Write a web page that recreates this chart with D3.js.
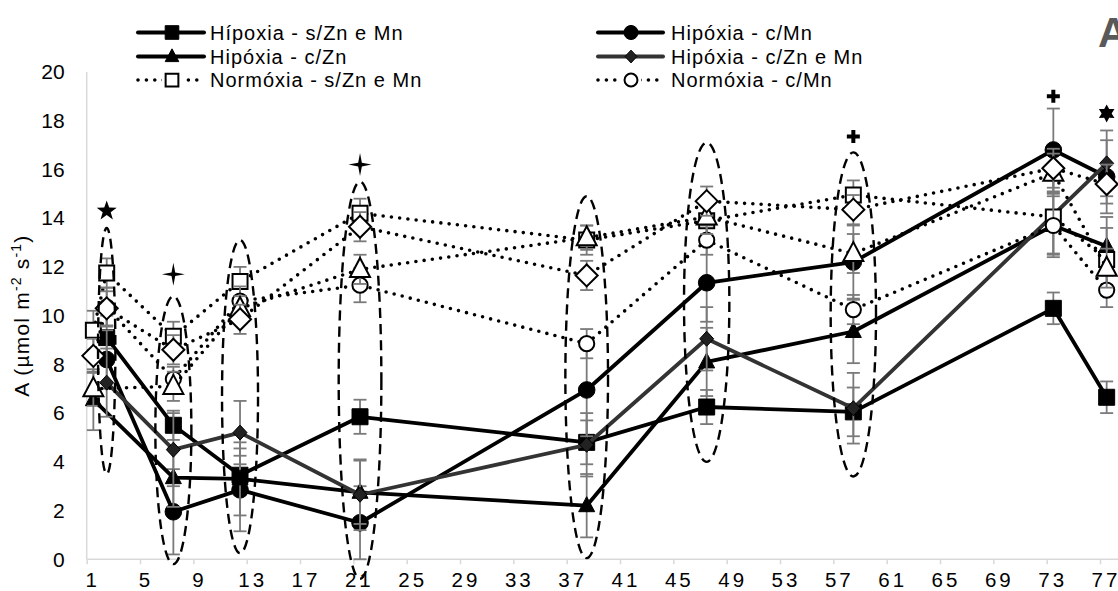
<!DOCTYPE html>
<html>
<head>
<meta charset="utf-8">
<script src="https://cdn.jsdelivr.net/npm/d3@7"></script>
<style>
  body { margin: 0; background: #fff; }
  svg { display: block; font-family: "Liberation Sans", Arial, sans-serif; }
</style>
</head>
<body>
<svg id="chart" width="1118" height="591"></svg>
<script>
// Net CO2 assimilation (A) during the experiment, hypoxia vs normoxia treatments

const xTicks = [1, 5, 9, 13, 17, 21, 25, 29, 33, 37, 41, 45, 49, 53, 57, 61, 65, 69, 73, 77];
const yTicks = [0, 2, 4, 6, 8, 10, 12, 14, 16, 18, 20];

// Hípoxia - s/Zn e Mn
const hipSemDays   = [2.5, 7.5, 12.5, 21.5, 38.5, 47.5, 58.5, 73.5, 77.5];
const hipSemVals   = [9.1, 5.5, 3.45, 5.85, 4.8, 6.25, 6.05, 10.3, 6.65];
const hipSemErr    = [0.9, 0.6, 0.8, 0.7, 0.9, 0.7, 1.0, 0.65, 0.65];

// Hipóxia - c/Mn
const hipMnDays    = [2.5, 7.5, 12.5, 21.5, 38.5, 47.5, 58.5, 73.5, 77.5];
const hipMnVals    = [8.2, 1.95, 2.85, 1.5, 6.95, 11.35, 12.2, 16.8, 15.7];
const hipMnErr     = [1.2, 1.75, 1.7, 1.5, 1.9, 1.6, 1.5, 1.7, 1.5];

// Hipóxia - c/Zn
const hipZnDays    = [1.5, 7.5, 12.5, 21.5, 38.5, 47.5, 58.5, 73.5, 77.5];
const hipZnVals    = [6.55, 3.35, 3.3, 2.75, 2.2, 8.1, 9.35, 13.7, 12.85];
const hipZnErr     = [1.25, 1.2, 1.5, 1.3, 1.3, 1.4, 1.3, 1.2, 1.2];

// Hipóxia - c/Zn e Mn
const hipZnMnDays  = [2.5, 7.5, 12.5, 21.5, 38.5, 47.5, 58.5, 77.5];
const hipZnMnVals  = [7.25, 4.5, 5.2, 2.65, 4.7, 9.05, 6.2, 16.25];
const hipZnMnErr   = [1.4, 1.5, 1.3, 1.45, 1.3, 1.3, 1.45, 1.35];

// Normóxia - s/Zn e Mn
const norSemDays   = [1.5, 2.5, 7.5, 12.5, 21.5, 38.5, 47.5, 58.5, 73.5, 77.5];
const norSemVals   = [9.4, 11.75, 9.15, 11.4, 14.2, 13.1, 13.9, 14.95, 14.05, 12.3];
const norSemErr    = [0.8, 0.6, 0.6, 0.6, 0.6, 0.6, 0.6, 0.6, 1.5, 1.3];

// Normóxia - c/Mn
const norMnDays    = [2.5, 7.5, 12.5, 21.5, 38.5, 47.5, 58.5, 73.5, 77.5];
const norMnVals    = [10.35, 7.4, 10.6, 11.25, 8.85, 13.1, 10.25, 13.7, 11.05];
const norMnErr     = [0.8, 0.5, 0.6, 0.7, 0.6, 0.6, 0.6, 1.3, 0.7];

// Normóxia - c/Zn
const norZnDays    = [1.5, 7.5, 12.5, 21.5, 38.5, 47.5, 58.5, 73.5, 77.5];
const norZnVals    = [7.0, 7.1, 10.3, 11.9, 13.2, 14.05, 12.55, 15.85, 11.95];
const norZnErr     = [0.7, 0.6, 0.5, 0.6, 0.5, 0.7, 0.8, 0.8, 0.8];

// Normóxia - c/Zn e Mn
const norZnMnDays  = [1.5, 2.5, 7.5, 12.5, 21.5, 38.5, 47.5, 58.5, 73.5, 77.5];
const norZnMnVals  = [8.35, 10.3, 8.6, 9.85, 13.65, 11.65, 14.7, 14.35, 16.05, 15.4];
const norZnMnErr   = [0.7, 0.7, 0.6, 0.6, 0.6, 0.6, 0.6, 0.6, 0.8, 0.8];

// Dashed groupings: day, upper and lower value, half-width in days
const groupDays   = [2.5, 7.5, 12.5, 21.5, 38.5, 47.5, 58.5];
const groupTop    = [13.6, 10.8, 13.1, 15.5, 14.9, 17.1, 16.7];
const groupBottom = [3.5, -0.2, 0.25, -0.8, 0.05, 4.0, 3.4];
const groupHalfW  = [0.65, 1.35, 1.35, 1.6, 1.6, 1.7, 1.7];

// Significance marks above the groups
const markDays  = [2.5, 7.5, 21.5, 58.5, 73.5, 77.5];
const markVals  = [14.3, 11.7, 16.2, 17.35, 19.0, 18.3];
const markTypes = ["star5", "sparkle", "sparkle", "plus", "plus", "star6"];

const series = [
  { name: "Hípoxia - s/Zn e Mn", days: hipSemDays, vals: hipSemVals, err: hipSemErr,
    dotted: false, color: "#000", marker: "square", filled: true, legend: [0, 0] },
  { name: "Hipóxia - c/Mn", days: hipMnDays, vals: hipMnVals, err: hipMnErr,
    dotted: false, color: "#000", marker: "circle", filled: true, legend: [1, 0] },
  { name: "Hipóxia - c/Zn", days: hipZnDays, vals: hipZnVals, err: hipZnErr,
    dotted: false, color: "#000", marker: "triangle", filled: true, legend: [0, 1] },
  { name: "Hipóxia - c/Zn e Mn", days: hipZnMnDays, vals: hipZnMnVals, err: hipZnMnErr,
    dotted: false, color: "#333", marker: "diamond", filled: true, legend: [1, 1] },
  { name: "Normóxia - s/Zn e Mn", days: norSemDays, vals: norSemVals, err: norSemErr,
    dotted: true, color: "#000", marker: "square", filled: false, legend: [0, 2] },
  { name: "Normóxia - c/Mn", days: norMnDays, vals: norMnVals, err: norMnErr,
    dotted: true, color: "#000", marker: "circle", filled: false, legend: [1, 2] },
  { name: "Normóxia - c/Zn", days: norZnDays, vals: norZnVals, err: norZnErr,
    dotted: true, color: "#000", marker: "triangle", filled: false, legend: null },
  { name: "Normóxia - c/Zn e Mn", days: norZnMnDays, vals: norZnMnVals, err: norZnMnErr,
    dotted: true, color: "#000", marker: "diamond", filled: false, legend: null }
];

const svg = d3.select("#chart");
const W = 1118;

const x = d3.scaleLinear().domain([1, 77]).range([86.7, 1100]);
const y = d3.scaleLinear().domain([0, 20]).range([559.3, 72]);

// ---- marker shapes ----
function markerPath(type, filled, legend) {
  const k = legend ? 0.85 : 1;
  if (type === "square") {
    const s = (filled ? 16 : 15) * k / 2;
    return `M${-s},${-s}H${s}V${s}H${-s}Z`;
  }
  if (type === "circle") {
    const r = (filled ? 8.3 : 7.6) * k;
    return `M${r},0A${r},${r} 0 1,1 ${-r},0A${r},${r} 0 1,1 ${r},0Z`;
  }
  if (type === "triangle") {
    const w = (filled ? 16 : 20) * k / 2, h = (filled ? 15 : 19) * k;
    return `M0,${-h * 0.6}L${w},${h * 0.4}L${-w},${h * 0.4}Z`;
  }
  // diamond
  const w = (filled ? 14 : 22) * k / 2, h = (filled ? 15 : 22) * k / 2;
  return `M0,${-h}L${w},0L0,${h}L${-w},0Z`;
}

// ---- axes ----
const gx = svg.append("g").attr("transform", `translate(0,${y(0)})`)
  .call(d3.axisBottom(x).tickValues(xTicks).tickSize(5).tickFormat(d3.format("d")));
gx.select(".domain").remove();
gx.selectAll(".tick line").attr("stroke", "#d9d9d9").attr("stroke-width", 1.5);
gx.selectAll(".tick text")
  .attr("y", 27.3).attr("dy", 0).attr("dx", 5.5)
  .attr("fill", "#000").attr("font-size", 20.5)
  .attr("letter-spacing", 3)
  .attr("font-family", "Liberation Sans, Arial, sans-serif");
svg.append("line")
  .attr("x1", x(1)).attr("x2", W).attr("y1", y(0)).attr("y2", y(0))
  .attr("stroke", "#d9d9d9").attr("stroke-width", 1.5);

const gy = svg.append("g").attr("transform", `translate(${x(1)},0)`)
  .call(d3.axisLeft(y).tickValues(yTicks).tickSize(0).tickPadding(22));
gy.select(".domain").remove();
gy.selectAll(".tick text")
  .attr("fill", "#000").attr("font-size", 21)
  .attr("font-family", "Liberation Sans, Arial, sans-serif");
svg.append("line")
  .attr("x1", x(1)).attr("x2", x(1)).attr("y1", y(0)).attr("y2", y(20))
  .attr("stroke", "#d9d9d9").attr("stroke-width", 1.5);

// y-axis title
const yTitle = svg.append("text")
  .attr("transform", `translate(29,${(y(0) + y(20)) / 2}) rotate(-90)`)
  .attr("text-anchor", "middle")
  .attr("font-size", 21).attr("letter-spacing", 1.2).attr("fill", "#000");
yTitle.append("tspan").text("A (µmol m");
yTitle.append("tspan").attr("font-size", 14).attr("dy", -8).text("-2");
yTitle.append("tspan").attr("dy", 8).text(" s");
yTitle.append("tspan").attr("font-size", 14).attr("dy", -8).text("-1");
yTitle.append("tspan").attr("dy", 8).text(")");

// ---- series ----
const line = d3.line().x(d => x(d.day)).y(d => y(d.v));

series.forEach(s => {
  const pts = s.days.map((d, i) => ({ day: d, v: s.vals[i], e: s.err[i] }));
  const g = svg.append("g");

  g.append("path").datum(pts)
    .attr("d", line)
    .attr("fill", "none")
    .attr("stroke", s.color)
    .attr("stroke-width", s.dotted ? 3.6 : 3.8)
    .attr("stroke-linecap", "round")
    .attr("stroke-linejoin", "round")
    .attr("stroke-dasharray", s.dotted ? "0 8.3" : null);

  const eb = g.append("g").attr("stroke", "#7a7a7a").attr("stroke-width", 1.8);
  pts.forEach(p => {
    const cx = x(p.day);
    eb.append("line").attr("x1", cx).attr("x2", cx).attr("y1", y(p.v + p.e)).attr("y2", y(p.v - p.e));
    [p.v + p.e, p.v - p.e].forEach(v => {
      eb.append("line").attr("x1", cx - 6.5).attr("x2", cx + 6.5).attr("y1", y(v)).attr("y2", y(v));
    });
  });

  g.selectAll("path.mk").data(pts).join("path")
    .attr("class", "mk")
    .attr("transform", p => `translate(${x(p.day)},${y(p.v)})`)
    .attr("d", markerPath(s.marker, s.filled, false))
    .attr("fill", s.filled ? (s.marker === "diamond" ? "#222" : "#000") : "#fff")
    .attr("stroke", "#000")
    .attr("stroke-width", s.filled ? 1 : 2);
});

// ---- dashed groupings ----
svg.append("g").selectAll("ellipse")
  .data(groupDays.map((d, i) => ({ d, top: groupTop[i], bot: groupBottom[i], hw: groupHalfW[i] })))
  .join("ellipse")
  .attr("cx", g => x(g.d))
  .attr("cy", g => (y(g.top) + y(g.bot)) / 2)
  .attr("rx", g => x(g.d + g.hw) - x(g.d))
  .attr("ry", g => (y(g.bot) - y(g.top)) / 2)
  .attr("fill", "none")
  .attr("stroke", "#000")
  .attr("stroke-width", 2.4)
  .attr("stroke-dasharray", "10 6");

// ---- significance marks ----
function starPath(n, ro, ri, rot) {
  const pts = [];
  for (let i = 0; i < 2 * n; i++) {
    const r = i % 2 === 0 ? ro : ri;
    const a = rot + i * Math.PI / n;
    pts.push([r * Math.sin(a), -r * Math.cos(a)]);
  }
  return "M" + pts.map(p => p.join(",")).join("L") + "Z";
}
function markPath(t) {
  if (t === "star5") return starPath(5, 10.5, 4.2, 0);
  if (t === "sparkle") return starPath(4, 11.5, 2.6, 0);
  if (t === "star6") return starPath(6, 9, 5, 0);
  const a = 6.5, b = 2;
  return `M${-b},${-a}H${b}V${-b}H${a}V${b}H${b}V${a}H${-b}V${b}H${-a}V${-b}H${-b}Z`;
}
svg.append("g").selectAll("path")
  .data(markDays.map((d, i) => ({ d, v: markVals[i], t: markTypes[i] })))
  .join("path")
  .attr("transform", m => `translate(${x(m.d)},${y(m.v)})`)
  .attr("d", m => markPath(m.t))
  .attr("fill", "#000");

// ---- legend ----
const legCols = [{ x0: 138, x1: 204, mx: 172, tx: 210 }, { x0: 598, x1: 663, mx: 631, tx: 671 }];
const legRows = [32.5, 56.5, 80];
const leg = svg.append("g");
series.filter(s => s.legend).forEach(s => {
  const c = legCols[s.legend[0]], ry = legRows[s.legend[1]];
  leg.append("line")
    .attr("x1", c.x0).attr("x2", c.x1).attr("y1", ry).attr("y2", ry)
    .attr("stroke", s.color)
    .attr("stroke-width", s.dotted ? 3.6 : 4)
    .attr("stroke-linecap", "round")
    .attr("stroke-dasharray", s.dotted ? "0 8.4" : null);
  if (s.dotted) {
    leg.append("rect").attr("x", c.mx - 10).attr("y", ry - 9).attr("width", 20).attr("height", 18).attr("fill", "#fff");
  }
  leg.append("path")
    .attr("transform", `translate(${c.mx},${ry})`)
    .attr("d", markerPath(s.marker, s.filled, true))
    .attr("fill", s.filled ? (s.marker === "diamond" ? "#222" : "#000") : "#fff")
    .attr("stroke", "#000")
    .attr("stroke-width", s.filled ? 1 : 2);
  leg.append("text")
    .attr("x", c.tx).attr("y", ry + 7)
    .attr("font-size", 20).attr("letter-spacing", 1)
    .attr("fill", "#000")
    .text(s.name);
});

// panel letter
svg.append("text")
  .attr("x", 1098).attr("y", 47)
  .attr("font-size", 42).attr("font-weight", "bold")
  .attr("fill", "#595959")
  .text("A");
</script>
</body>
</html>
